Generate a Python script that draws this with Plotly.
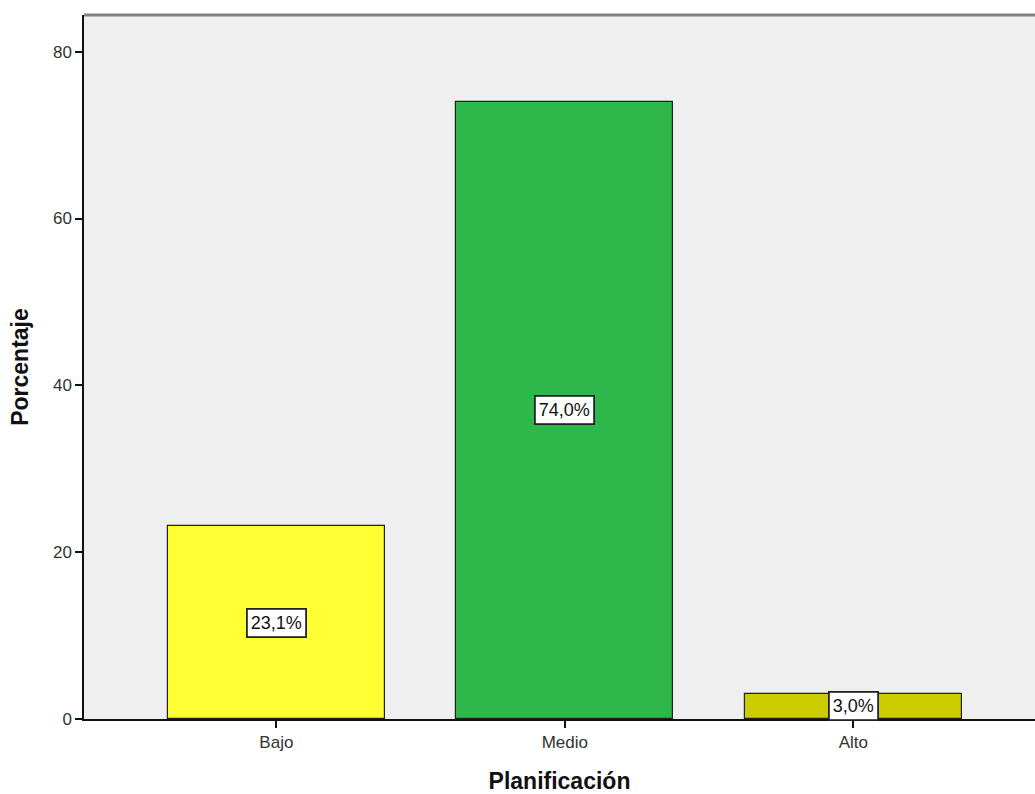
import plotly.graph_objects as go

categorias = ["Bajo", "Medio", "Alto"]
porcentajes = [23.1, 74.0, 3.0]
colores = ["#FFFF33", "#2EB84B", "#CCCC00"]
etiquetas = ["23,1%", "74,0%", "3,0%"]
ticks_y = [0, 20, 40, 60, 80]

fig = go.Figure()
fig.add_trace(go.Bar(
    x=categorias,
    y=porcentajes,
    marker=dict(color=colores, line=dict(color="#222222", width=1.2)),
    width=0.752,
    showlegend=False,
    hoverinfo="skip",
))

# Value labels in white boxes at mid-height of each bar
for cat, val, txt in zip(categorias, porcentajes, etiquetas):
    fig.add_annotation(
        x=cat, y=val / 2, text=txt, showarrow=False,
        font=dict(family="Arial, Liberation Sans", size=18, color="#111111"),
        bgcolor="white", bordercolor="#222222", borderwidth=1.8, borderpad=3,
    )

# Gray frame line on top of the plot area
fig.add_shape(type="line", xref="paper", yref="paper", x0=0, x1=1, y0=1, y1=1,
              line=dict(color="#808080", width=3))

fig.update_layout(
    width=1035, height=794,
    margin=dict(l=84, r=0, t=15, b=75),
    paper_bgcolor="white",
    plot_bgcolor="#EFEFEF",
    font=dict(family="Arial, Liberation Sans", size=17, color="#333333"),
    bargap=0,
)
fig.update_xaxes(
    range=[-0.667, 2.63],
    showline=True, linecolor="#111111", linewidth=1.5,
    ticks="outside", ticklen=7, tickcolor="#111111", tickwidth=1.5,
    tickfont=dict(size=17, color="#333333"),
    showgrid=False, zeroline=False,
    title=dict(text="<b>Planificación</b>", font=dict(size=23, color="#111111"), standoff=24),
)
fig.update_yaxes(
    range=[0, 84.4], tickvals=ticks_y,
    showline=True, linecolor="#111111", linewidth=1.5,
    ticks="outside", ticklen=7, tickcolor="#111111", tickwidth=1.5,
    tickfont=dict(size=17, color="#333333"),
    showgrid=False, zeroline=False,
    title=dict(text="<b>Porcentaje</b>", font=dict(size=23, color="#111111"), standoff=18),
)

fig.write_html("out.html")
